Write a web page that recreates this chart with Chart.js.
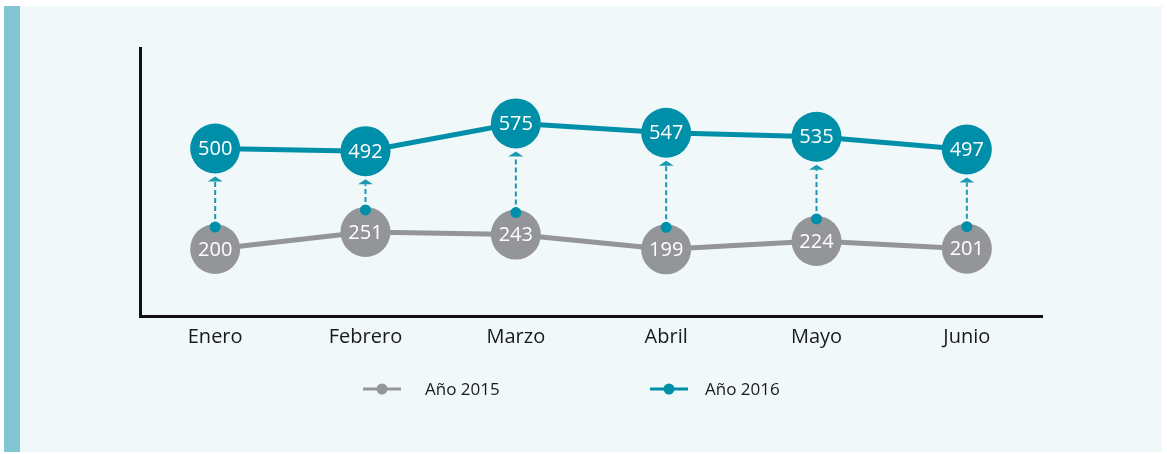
<!DOCTYPE html>
<html>
<head>
    <meta charset="utf-8">
    <title>Año 2015 vs Año 2016</title>
    <script src="https://cdn.jsdelivr.net/npm/chart.js@4/dist/chart.umd.min.js"></script>
    <style>
        body { margin: 0; background: #ffffff; }
        #panel {
            position: absolute; left: 4px; top: 6px; width: 1142px; height: 446px;
            background: #f0f8fa; border-left: 16px solid #82c6d3;
        }
        #chart { position: absolute; left: 0; top: 0; }
    </style>
</head>
<body>
<div id="panel"></div>
<canvas id="chart" width="1167" height="454"></canvas>
<script>
    var months = ['Enero', 'Febrero', 'Marzo', 'Abril', 'Mayo', 'Junio'];
    var values2015 = [200, 251, 243, 199, 224, 201];
    var values2016 = [500, 492, 575, 547, 535, 497];
    var seriesNames = ['Año 2015', 'Año 2016'];

    var GREY = '#939598';
    var TEAL = '#008fa8';
    var FONT = '"Open Sans", "Noto Sans", sans-serif';

    /* dashed arrows, value labels and the legend */
    var decorations = {
        id: 'decorations',
        afterDatasetsDraw: function (chart) {
            var ctx = chart.ctx;
            var low = chart.getDatasetMeta(0).data;
            var high = chart.getDatasetMeta(1).data;

            ctx.save();
            for (var i = 0; i < low.length; i++) {
                var x = low[i].x;
                var yFrom = low[i].y - 22;
                var yTip = high[i].y + 28;

                ctx.strokeStyle = '#1a9ab1';
                ctx.lineWidth = 2;
                ctx.setLineDash([5, 3]);
                ctx.beginPath();
                ctx.moveTo(x, yFrom);
                ctx.lineTo(x, yTip + 5);
                ctx.stroke();
                ctx.setLineDash([]);

                ctx.fillStyle = '#1a9ab1';
                ctx.beginPath();
                ctx.moveTo(x, yTip);
                ctx.lineTo(x + 7.5, yTip + 5);
                ctx.lineTo(x - 7.5, yTip + 5);
                ctx.closePath();
                ctx.fill();

                ctx.fillStyle = TEAL;
                ctx.beginPath();
                ctx.arc(x, yFrom, 5.5, 0, Math.PI * 2);
                ctx.fill();
            }

            ctx.fillStyle = '#ffffff';
            ctx.font = '20px ' + FONT;
            ctx.textAlign = 'center';
            ctx.textBaseline = 'middle';
            chart.data.datasets.forEach(function (ds, d) {
                chart.getDatasetMeta(d).data.forEach(function (pt, j) {
                    ctx.fillText(String(ds.data[j]), pt.x, pt.y + 1);
                });
            });
            ctx.restore();
        },
        afterDraw: function (chart) {
            var ctx = chart.ctx;
            var centers = [382, 669];
            var textX = [425, 705];
            var y = 389;
            ctx.save();
            chart.data.datasets.forEach(function (ds, d) {
                var cx = centers[d];
                ctx.strokeStyle = ds.borderColor;
                ctx.lineWidth = 3;
                ctx.beginPath();
                ctx.moveTo(cx - 19, y);
                ctx.lineTo(cx + 19, y);
                ctx.stroke();
                ctx.fillStyle = ds.borderColor;
                ctx.beginPath();
                ctx.arc(cx, y, 5.5, 0, Math.PI * 2);
                ctx.fill();

                ctx.fillStyle = '#1a1a1a';
                ctx.font = '17px ' + FONT;
                ctx.textAlign = 'left';
                ctx.textBaseline = 'middle';
                ctx.fillText(ds.label, textX[d], y + 1);
            });
            ctx.restore();
        }
    };

    var config = {
        type: 'line',
        data: {
            labels: months,
            datasets: [{
                label: seriesNames[0],
                data: values2015,
                borderColor: GREY,
                backgroundColor: GREY,
                borderWidth: 5,
                pointRadius: 25,
                pointHoverRadius: 25,
                pointBorderWidth: 0,
                fill: false,
                clip: false
            }, {
                label: seriesNames[1],
                data: values2016,
                borderColor: TEAL,
                backgroundColor: TEAL,
                borderWidth: 5,
                pointRadius: 25,
                pointHoverRadius: 25,
                pointBorderWidth: 0,
                fill: false,
                clip: false
            }]
        },
        options: {
            responsive: false,
            animation: false,
            devicePixelRatio: 1,
            layout: {
                padding: { left: 140, right: 125, top: 48, bottom: 96 }
            },
            plugins: {
                legend: { display: false },
                tooltip: { enabled: false }
            },
            scales: {
                x: {
                    offset: true,
                    grid: { display: false, drawTicks: false },
                    border: { display: true, color: '#111111', width: 3 },
                    ticks: {
                        color: '#1a1a1a',
                        font: { family: FONT, size: 20 },
                        padding: 9,
                        autoSkip: false,
                        maxRotation: 0
                    }
                },
                y: {
                    min: 0,
                    max: 800,
                    grid: { display: false, drawTicks: false },
                    border: { display: true, color: '#111111', width: 3 },
                    ticks: { display: false }
                }
            }
        },
        plugins: [decorations]
    };

    window.onload = function () {
        window.myLine = new Chart(document.getElementById('chart'), config);
    };
</script>
</body>
</html>
